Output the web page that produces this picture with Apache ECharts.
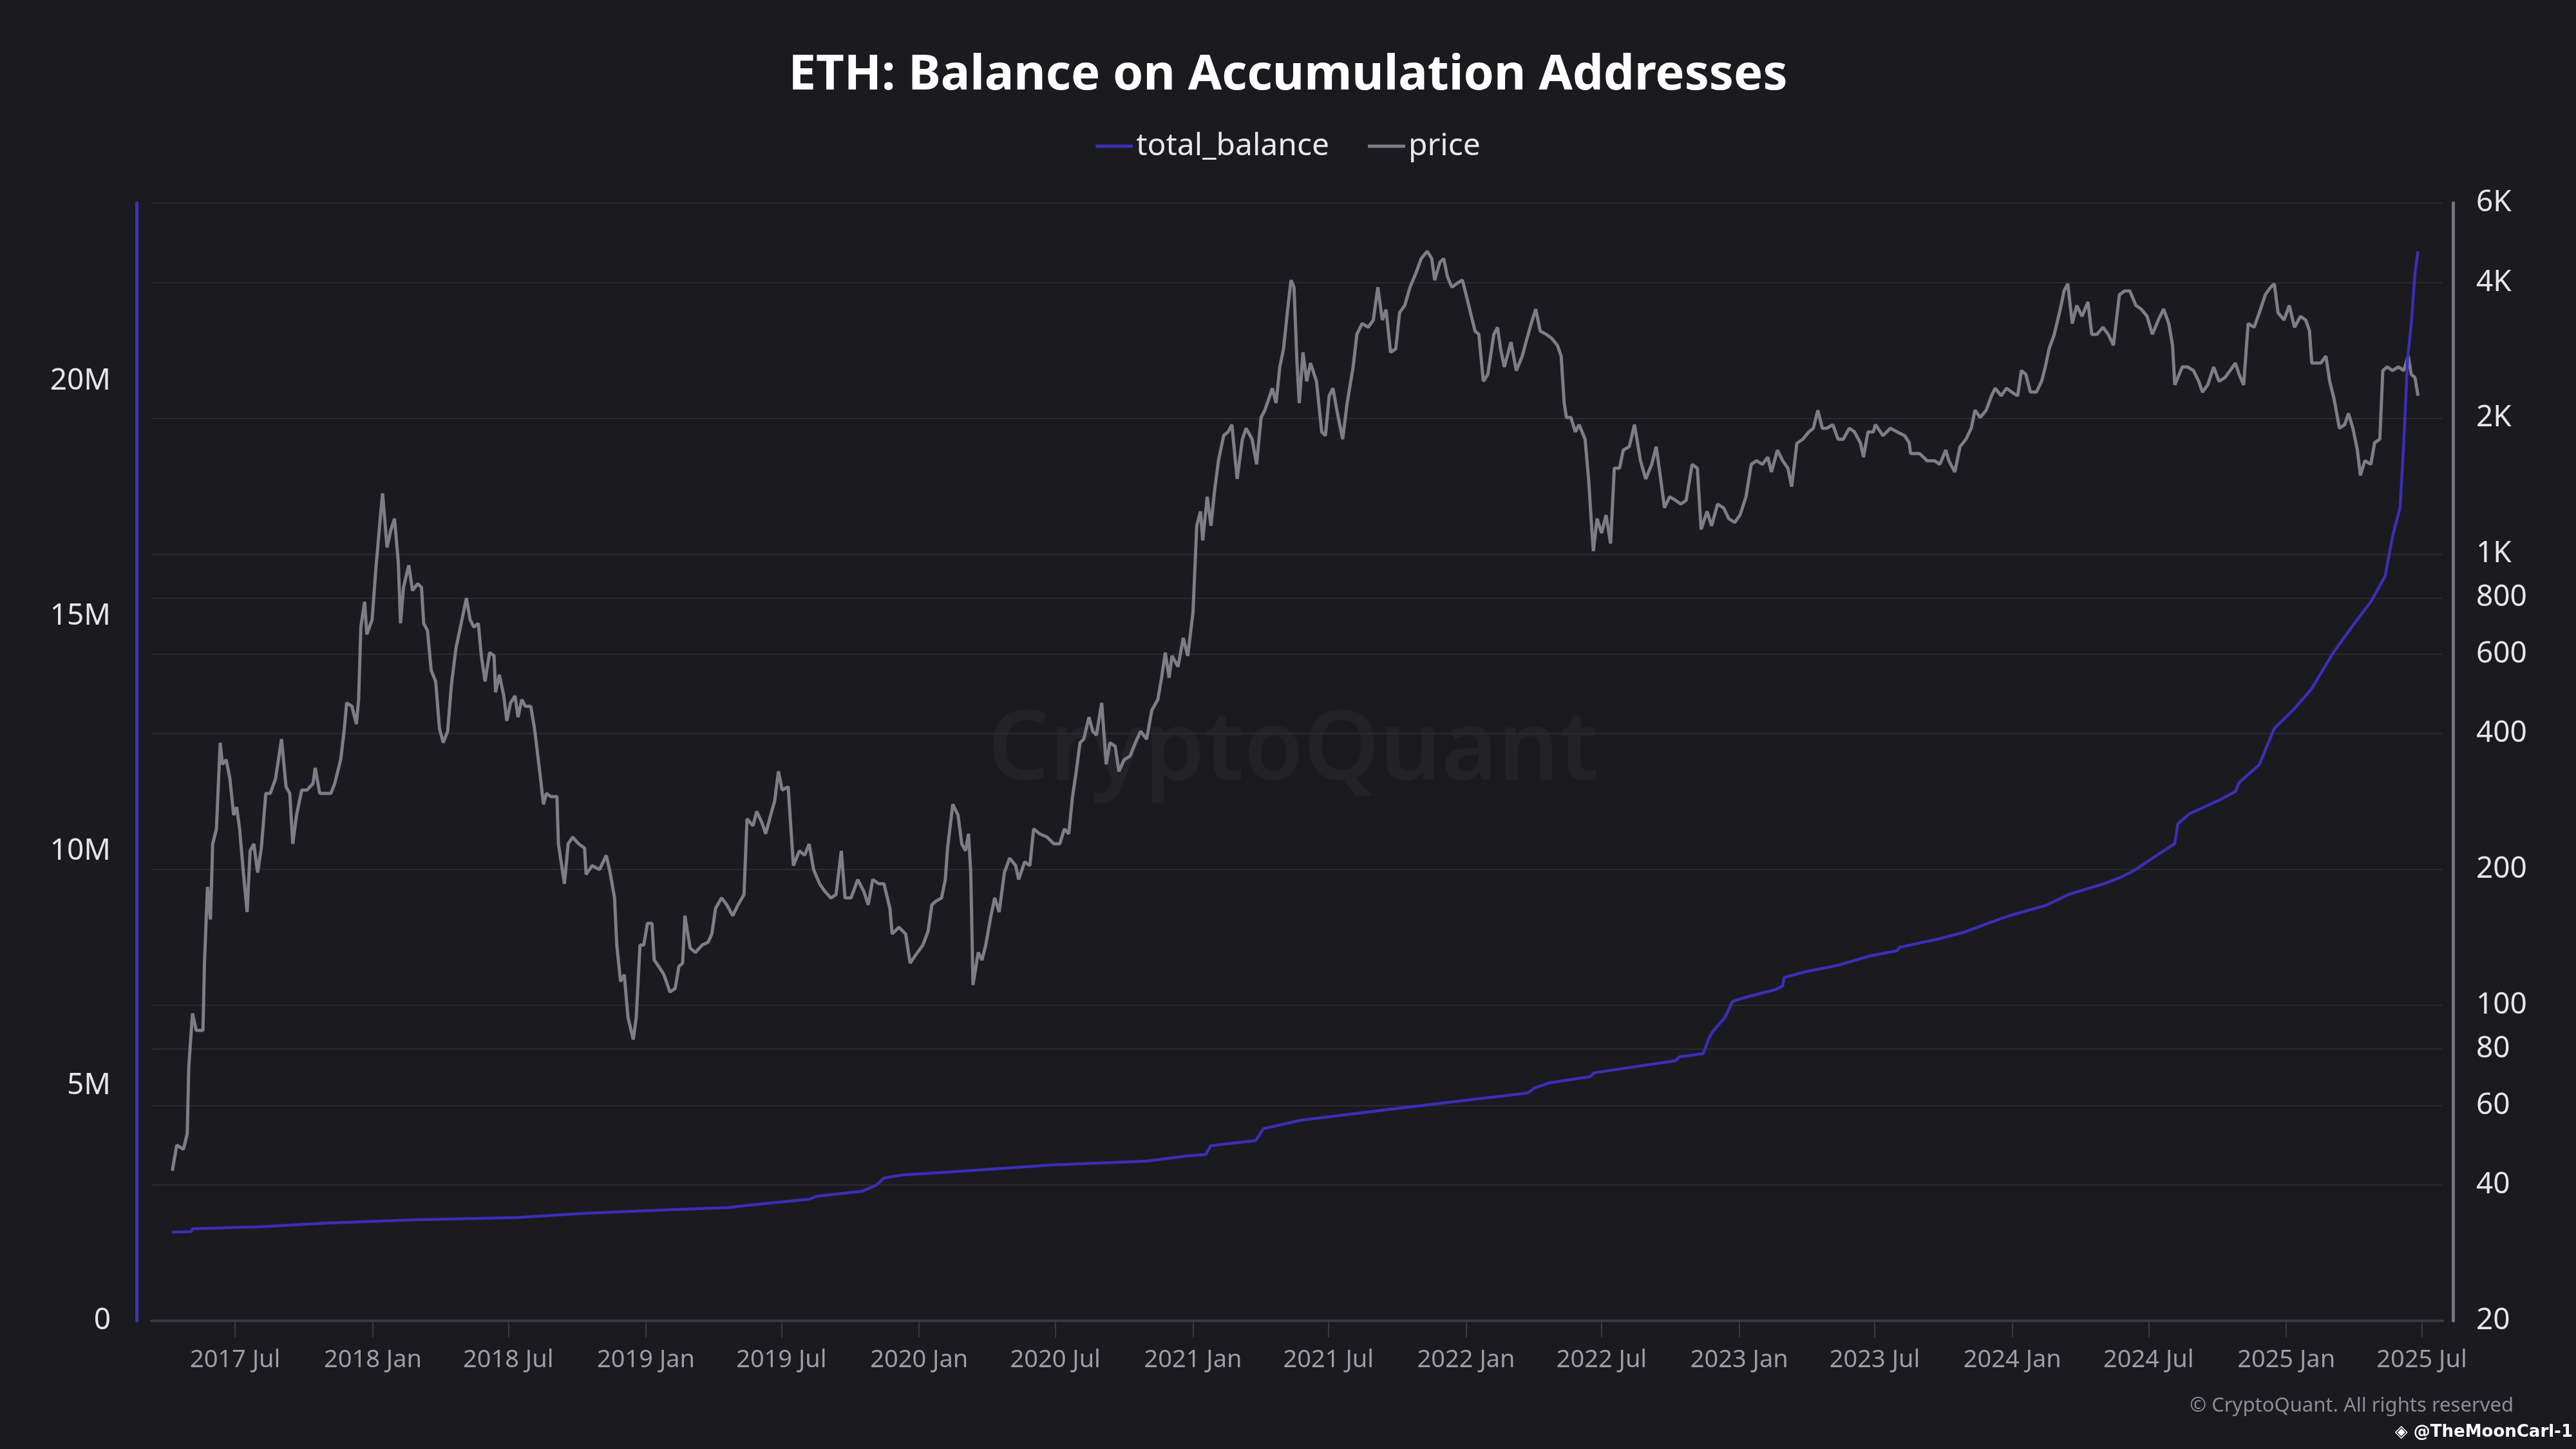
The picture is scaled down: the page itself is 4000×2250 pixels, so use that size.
<!DOCTYPE html>
<html>
<head>
<meta charset="utf-8">
<script src="https://cdn.jsdelivr.net/npm/echarts@6/dist/echarts.min.js"></script>
<style>
  html, body { margin: 0; padding: 0; background: #1b1a1f; }
  #chart { width: 4000px; height: 2250px; }
</style>
</head>
<body>
<div id="chart"></div>
<script>
// ETH price (USD)
const pricePoints = [
  ['2017-04-08', 43], ['2017-04-14', 49], ['2017-04-23', 48], ['2017-04-28', 52], ['2017-04-30', 73],
  ['2017-05-05', 96], ['2017-05-10', 88], ['2017-05-19', 88], ['2017-05-21', 124], ['2017-05-25', 183],
  ['2017-05-29', 155], ['2017-06-01', 228], ['2017-06-06', 246], ['2017-06-11', 382], ['2017-06-14', 342],
  ['2017-06-19', 350], ['2017-06-24', 318], ['2017-06-29', 264], ['2017-07-03', 275], ['2017-07-07', 246],
  ['2017-07-12', 197], ['2017-07-17', 161], ['2017-07-21', 220], ['2017-07-26', 228], ['2017-07-31', 197],
  ['2017-08-05', 223], ['2017-08-11', 295], ['2017-08-17', 295], ['2017-08-24', 318], ['2017-09-01', 389],
  ['2017-09-07', 305], ['2017-09-12', 295], ['2017-09-16', 228], ['2017-09-21', 264], ['2017-09-28', 300],
  ['2017-10-05', 300], ['2017-10-13', 310], ['2017-10-16', 336], ['2017-10-22', 295], ['2017-10-30', 295],
  ['2017-11-06', 295], ['2017-11-11', 310], ['2017-11-19', 350], ['2017-11-24', 411], ['2017-11-27', 468],
  ['2017-12-04', 460], ['2017-12-10', 420], ['2017-12-13', 476], ['2017-12-16', 689], ['2017-12-21', 784],
  ['2017-12-24', 664], ['2017-12-31', 715],
  ['2018-01-05', 925], ['2018-01-10', 1155], ['2018-01-14', 1363], ['2018-01-20', 1034], ['2018-01-25', 1130],
  ['2018-01-30', 1198], ['2018-02-04', 960], ['2018-02-07', 702], ['2018-02-11', 844], ['2018-02-18', 945],
  ['2018-02-23', 830], ['2018-03-02', 860], ['2018-03-07', 844], ['2018-03-10', 702], ['2018-03-15', 677],
  ['2018-03-20', 552], ['2018-03-26', 522], ['2018-03-31', 411], ['2018-04-05', 382], ['2018-04-11', 405],
  ['2018-04-16', 513], ['2018-04-22', 617], ['2018-04-28', 689], ['2018-05-06', 799], ['2018-05-11', 715],
  ['2018-05-16', 689], ['2018-05-22', 702], ['2018-05-26', 595], ['2018-05-31', 522], ['2018-06-06', 605],
  ['2018-06-12', 595], ['2018-06-14', 494], ['2018-06-19', 540], ['2018-06-25', 485], ['2018-06-29', 427],
  ['2018-07-04', 468], ['2018-07-10', 485], ['2018-07-14', 435], ['2018-07-19', 476], ['2018-07-24', 460],
  ['2018-07-31', 460], ['2018-08-05', 411], ['2018-08-12', 330], ['2018-08-17', 279], ['2018-08-21', 295],
  ['2018-08-27', 290], ['2018-09-04', 290], ['2018-09-06', 228], ['2018-09-14', 186], ['2018-09-19', 228],
  ['2018-09-25', 236], ['2018-10-03', 228], ['2018-10-11', 223], ['2018-10-13', 195], ['2018-10-21', 204],
  ['2018-10-31', 200], ['2018-11-09', 215], ['2018-11-14', 197], ['2018-11-20', 173], ['2018-11-23', 136],
  ['2018-11-28', 113], ['2018-12-03', 117], ['2018-12-08', 94], ['2018-12-15', 84], ['2018-12-19', 94],
  ['2018-12-24', 136], ['2018-12-29', 136],
  ['2019-01-03', 152], ['2019-01-09', 152], ['2019-01-12', 126], ['2019-01-18', 122], ['2019-01-25', 117],
  ['2019-02-02', 107], ['2019-02-09', 109], ['2019-02-14', 122], ['2019-02-19', 124], ['2019-02-22', 158],
  ['2019-03-01', 134], ['2019-03-08', 131], ['2019-03-17', 136], ['2019-03-25', 138], ['2019-03-30', 144],
  ['2019-04-04', 164], ['2019-04-12', 173], ['2019-04-19', 167], ['2019-04-27', 158], ['2019-05-04', 167],
  ['2019-05-12', 176], ['2019-05-16', 259], ['2019-05-24', 250], ['2019-05-29', 269], ['2019-06-05', 254],
  ['2019-06-10', 240], ['2019-06-18', 269], ['2019-06-22', 284], ['2019-06-27', 330], ['2019-07-02', 300],
  ['2019-07-10', 305], ['2019-07-17', 204], ['2019-07-25', 220], ['2019-08-01', 215], ['2019-08-07', 228],
  ['2019-08-13', 200], ['2019-08-21', 186], ['2019-08-28', 179], ['2019-09-05', 173], ['2019-09-12', 176],
  ['2019-09-19', 220], ['2019-09-24', 173], ['2019-10-02', 173], ['2019-10-11', 190], ['2019-10-19', 179],
  ['2019-10-25', 167], ['2019-10-31', 190], ['2019-11-08', 186], ['2019-11-15', 186], ['2019-11-23', 164],
  ['2019-11-26', 144], ['2019-12-05', 149], ['2019-12-14', 144], ['2019-12-20', 124], ['2019-12-27', 129],
  ['2020-01-06', 136], ['2020-01-13', 146], ['2020-01-18', 167], ['2020-01-23', 170], ['2020-01-31', 173],
  ['2020-02-05', 190], ['2020-02-08', 223], ['2020-02-15', 279], ['2020-02-22', 264], ['2020-02-27', 228],
  ['2020-03-03', 220], ['2020-03-07', 240], ['2020-03-10', 197], ['2020-03-13', 111], ['2020-03-20', 131],
  ['2020-03-25', 126], ['2020-03-30', 136], ['2020-04-06', 158], ['2020-04-11', 173], ['2020-04-17', 161],
  ['2020-04-24', 197], ['2020-05-01', 212], ['2020-05-09', 204], ['2020-05-13', 190], ['2020-05-21', 208],
  ['2020-05-28', 204], ['2020-06-02', 246], ['2020-06-10', 240], ['2020-06-20', 236], ['2020-06-29', 228],
  ['2020-07-07', 228], ['2020-07-13', 246], ['2020-07-19', 240], ['2020-07-24', 290], ['2020-07-29', 330],
  ['2020-08-03', 382], ['2020-08-08', 389], ['2020-08-15', 435], ['2020-08-20', 405], ['2020-08-25', 397],
  ['2020-09-01', 468], ['2020-09-07', 342], ['2020-09-12', 382], ['2020-09-19', 375], ['2020-09-24', 330],
  ['2020-10-01', 350], ['2020-10-09', 357], ['2020-10-16', 382], ['2020-10-23', 405], ['2020-10-31', 389],
  ['2020-11-07', 451], ['2020-11-15', 476], ['2020-11-20', 532], ['2020-11-25', 605], ['2020-11-30', 532],
  ['2020-12-04', 595], ['2020-12-12', 563], ['2020-12-19', 652], ['2020-12-25', 595],
  ['2021-01-01', 742], ['2021-01-06', 1155], ['2021-01-11', 1243], ['2021-01-14', 1072], ['2021-01-20', 1340],
  ['2021-01-25', 1155], ['2021-01-30', 1389], ['2021-02-04', 1609], ['2021-02-11', 1831], ['2021-02-17', 1867],
  ['2021-02-22', 1935], ['2021-03-01', 1467], ['2021-03-08', 1797], ['2021-03-13', 1900], ['2021-03-21', 1797],
  ['2021-03-27', 1580], ['2021-04-02', 2008], ['2021-04-07', 2083], ['2021-04-12', 2201], ['2021-04-17', 2330],
  ['2021-04-22', 2160], ['2021-04-27', 2598], ['2021-05-02', 2849], ['2021-05-07', 3425], ['2021-05-12', 4045],
  ['2021-05-16', 3900], ['2021-05-20', 2650], ['2021-05-23', 2160], ['2021-05-28', 2798], ['2021-06-02', 2414],
  ['2021-06-07', 2650], ['2021-06-15', 2414], ['2021-06-22', 1865], ['2021-06-27', 1830], ['2021-07-02', 2242],
  ['2021-07-07', 2330], ['2021-07-13', 2050], ['2021-07-20', 1797], ['2021-07-26', 2160], ['2021-08-03', 2598],
  ['2021-08-08', 3068], ['2021-08-15', 3242], ['2021-08-23', 3180], ['2021-08-30', 3300], ['2021-09-05', 3900],
  ['2021-09-11', 3300], ['2021-09-16', 3480], ['2021-09-22', 2798], ['2021-09-29', 2850], ['2021-10-04', 3425],
  ['2021-10-11', 3555], ['2021-10-18', 3900], ['2021-10-26', 4197], ['2021-11-02', 4516], ['2021-11-10', 4687],
  ['2021-11-16', 4516], ['2021-11-20', 4045], ['2021-11-27', 4430], ['2021-12-02', 4516], ['2021-12-07', 4120],
  ['2021-12-13', 3900], ['2021-12-19', 3970], ['2021-12-27', 4045],
  ['2022-01-01', 3755], ['2022-01-08', 3363], ['2022-01-13', 3120], ['2022-01-18', 3068], ['2022-01-24', 2414],
  ['2022-01-30', 2500], ['2022-02-07', 3068], ['2022-02-12', 3180], ['2022-02-16', 2850], ['2022-02-21', 2598],
  ['2022-03-02', 2950], ['2022-03-09', 2550], ['2022-03-17', 2745], ['2022-03-22', 2950], ['2022-03-29', 3242],
  ['2022-04-04', 3490], ['2022-04-10', 3120], ['2022-04-18', 3068], ['2022-04-25', 3010], ['2022-05-03', 2900],
  ['2022-05-08', 2745], ['2022-05-12', 2160], ['2022-05-15', 2008], ['2022-05-21', 2008], ['2022-05-27', 1865],
  ['2022-06-01', 1935], ['2022-06-09', 1797], ['2022-06-14', 1440], ['2022-06-17', 1198], ['2022-06-20', 1015],
  ['2022-06-25', 1198], ['2022-07-01', 1113], ['2022-07-07', 1220], ['2022-07-13', 1055], ['2022-07-18', 1550],
  ['2022-07-25', 1550], ['2022-07-30', 1700], ['2022-08-07', 1730], ['2022-08-14', 1935], ['2022-08-22', 1610],
  ['2022-08-29', 1467], ['2022-09-06', 1580], ['2022-09-12', 1730], ['2022-09-18', 1467], ['2022-09-23', 1266],
  ['2022-09-30', 1340], ['2022-10-08', 1315], ['2022-10-15', 1290], ['2022-10-22', 1315], ['2022-10-30', 1580],
  ['2022-11-06', 1550], ['2022-11-11', 1134], ['2022-11-19', 1243], ['2022-11-25', 1155], ['2022-12-03', 1290],
  ['2022-12-11', 1266], ['2022-12-18', 1198], ['2022-12-26', 1175],
  ['2023-01-02', 1220], ['2023-01-10', 1340], ['2023-01-17', 1580], ['2023-01-24', 1610], ['2023-02-01', 1580],
  ['2023-02-08', 1640], ['2023-02-13', 1520], ['2023-02-21', 1700], ['2023-02-28', 1610], ['2023-03-07', 1550],
  ['2023-03-12', 1410], ['2023-03-19', 1760], ['2023-03-27', 1797], ['2023-04-04', 1865], ['2023-04-10', 1900],
  ['2023-04-16', 2083], ['2023-04-22', 1900], ['2023-04-28', 1900], ['2023-05-06', 1935], ['2023-05-13', 1797],
  ['2023-05-20', 1797], ['2023-05-28', 1900], ['2023-06-04', 1865], ['2023-06-12', 1760], ['2023-06-16', 1640],
  ['2023-06-22', 1865], ['2023-06-29', 1865], ['2023-07-02', 1935], ['2023-07-12', 1830], ['2023-07-22', 1900],
  ['2023-07-31', 1865], ['2023-08-10', 1830], ['2023-08-16', 1765], ['2023-08-18', 1670], ['2023-08-30', 1670],
  ['2023-09-09', 1610], ['2023-09-19', 1610], ['2023-09-26', 1580], ['2023-10-04', 1700], ['2023-10-08', 1610],
  ['2023-10-16', 1520], ['2023-10-23', 1730], ['2023-10-31', 1797], ['2023-11-07', 1900], ['2023-11-12', 2083],
  ['2023-11-19', 2008], ['2023-11-27', 2083], ['2023-12-04', 2242], ['2023-12-09', 2330], ['2023-12-17', 2242],
  ['2023-12-24', 2330], ['2023-12-31', 2285],
  ['2024-01-08', 2242], ['2024-01-13', 2551], ['2024-01-19', 2500], ['2024-01-25', 2285], ['2024-02-02', 2285],
  ['2024-02-09', 2414], ['2024-02-14', 2598], ['2024-02-19', 2850], ['2024-02-26', 3068], ['2024-03-05', 3490],
  ['2024-03-10', 3827], ['2024-03-15', 3970], ['2024-03-21', 3242], ['2024-03-27', 3555], ['2024-04-03', 3363],
  ['2024-04-11', 3620], ['2024-04-16', 3068], ['2024-04-23', 3068], ['2024-05-01', 3180], ['2024-05-08', 3068],
  ['2024-05-15', 2900], ['2024-05-23', 3755], ['2024-05-30', 3827], ['2024-06-06', 3827], ['2024-06-14', 3555],
  ['2024-06-21', 3490], ['2024-06-29', 3363], ['2024-07-06', 3068], ['2024-07-14', 3300], ['2024-07-21', 3490],
  ['2024-07-28', 3242], ['2024-08-02', 2900], ['2024-08-05', 2370], ['2024-08-15', 2598], ['2024-08-22', 2598],
  ['2024-08-30', 2551], ['2024-09-06', 2414], ['2024-09-11', 2285], ['2024-09-18', 2370], ['2024-09-26', 2598],
  ['2024-10-03', 2414], ['2024-10-11', 2460], ['2024-10-18', 2551], ['2024-10-25', 2650], ['2024-10-30', 2500],
  ['2024-11-05', 2370], ['2024-11-11', 3242], ['2024-11-19', 3180], ['2024-11-26', 3425], ['2024-12-04', 3755],
  ['2024-12-11', 3900], ['2024-12-16', 3970], ['2024-12-21', 3425], ['2024-12-29', 3300],
  ['2025-01-05', 3555], ['2025-01-12', 3180], ['2025-01-20', 3363], ['2025-01-27', 3300], ['2025-02-01', 3120],
  ['2025-02-04', 2650], ['2025-02-16', 2650], ['2025-02-23', 2745], ['2025-02-28', 2414], ['2025-03-06', 2201],
  ['2025-03-13', 1900], ['2025-03-20', 1935], ['2025-03-25', 2050], ['2025-03-31', 1900], ['2025-04-06', 1700],
  ['2025-04-10', 1494], ['2025-04-16', 1610], ['2025-04-24', 1580], ['2025-04-29', 1765], ['2025-05-06', 1797],
  ['2025-05-10', 2551], ['2025-05-16', 2598], ['2025-05-23', 2551], ['2025-05-31', 2598], ['2025-06-07', 2551],
  ['2025-06-13', 2745], ['2025-06-17', 2500], ['2025-06-22', 2460], ['2025-06-26', 2242]
];

// total balance on accumulation addresses (ETH)
const balancePoints = [
  ['2017-04-08', 1.89e6], ['2017-05-03', 1.90e6], ['2017-05-05', 1.96e6], ['2017-08-02', 2.00e6],
  ['2017-10-30', 2.08e6], ['2018-02-23', 2.15e6], ['2018-07-14', 2.20e6], ['2018-10-11', 2.29e6],
  ['2019-01-28', 2.36e6], ['2019-04-20', 2.41e6], ['2019-05-24', 2.47e6], ['2019-08-08', 2.59e6],
  ['2019-08-16', 2.65e6], ['2019-10-17', 2.76e6], ['2019-11-05', 2.89e6], ['2019-11-15', 3.04e6],
  ['2019-12-12', 3.11e6], ['2020-02-12', 3.17e6], ['2020-06-29', 3.32e6], ['2020-10-31', 3.40e6],
  ['2020-12-23', 3.51e6], ['2021-01-18', 3.54e6], ['2021-01-25', 3.73e6], ['2021-03-26', 3.84e6],
  ['2021-04-05', 4.09e6], ['2021-05-25', 4.27e6], ['2021-10-11', 4.54e6], ['2022-03-24', 4.85e6],
  ['2022-04-03', 4.96e6], ['2022-04-23', 5.07e6], ['2022-06-16', 5.20e6], ['2022-06-21', 5.28e6],
  ['2022-10-08', 5.54e6], ['2022-10-13', 5.62e6], ['2022-11-14', 5.69e6], ['2022-11-21', 6.00e6],
  ['2022-11-26', 6.15e6], ['2022-12-13', 6.46e6], ['2022-12-23', 6.80e6], ['2023-01-12', 6.90e6],
  ['2023-02-18', 7.05e6], ['2023-02-28', 7.13e6], ['2023-03-02', 7.31e6], ['2023-03-30', 7.43e6],
  ['2023-05-13', 7.57e6], ['2023-06-25', 7.77e6], ['2023-07-31', 7.88e6], ['2023-08-03', 7.95e6],
  ['2023-09-24', 8.13e6], ['2023-10-28', 8.27e6], ['2023-11-22', 8.42e6], ['2023-12-27', 8.62e6],
  ['2024-02-14', 8.84e6], ['2024-03-15', 9.07e6], ['2024-05-03', 9.31e6], ['2024-05-23', 9.43e6],
  ['2024-06-11', 9.58e6], ['2024-07-11', 9.90e6], ['2024-08-05', 10.16e6], ['2024-08-09', 10.58e6],
  ['2024-08-25', 10.80e6], ['2024-10-03', 11.08e6], ['2024-10-25', 11.27e6], ['2024-10-30', 11.46e6],
  ['2024-11-26', 11.84e6], ['2024-12-06', 12.23e6], ['2024-12-16', 12.61e6], ['2025-01-10', 13.00e6],
  ['2025-02-04', 13.46e6], ['2025-03-05', 14.23e6], ['2025-03-30', 14.78e6], ['2025-04-24', 15.31e6],
  ['2025-05-13', 15.85e6], ['2025-05-23', 16.70e6], ['2025-06-02', 17.31e6], ['2025-06-07', 18.70e6],
  ['2025-06-12', 20.47e6], ['2025-06-17', 21.23e6], ['2025-06-22', 22.30e6], ['2025-06-26', 22.77e6]
];

// tick positions / labels
const xTickDates = ['2017-07-01', '2018-01-01', '2018-07-01', '2019-01-01', '2019-07-01', '2020-01-01',
  '2020-07-01', '2021-01-01', '2021-07-01', '2022-01-01', '2022-07-01', '2023-01-01', '2023-07-01',
  '2024-01-01', '2024-07-01', '2025-01-01', '2025-07-01'];
const priceTicks = [20, 40, 60, 80, 100, 200, 400, 600, 800, 1000, 2000, 4000, 6000];
const balanceTicks = [0, 5000000, 10000000, 15000000, 20000000];
const monthNames = ['Jan', 'Feb', 'Mar', 'Apr', 'May', 'Jun', 'Jul', 'Aug', 'Sep', 'Oct', 'Nov', 'Dec'];

function toTime(d) {
    return echarts.time.parse(d).getTime();
}

function drawChart() {
    let chart = echarts.init(document.getElementById('chart'));
    let xTicks = xTickDates.map(toTime);
    let font = 'Noto Sans';

    let options = {
        backgroundColor: '#1b1a1f',
        animation: false,
        title: {
            text: 'ETH: Balance on Accumulation Addresses',
            left: 'center',
            top: 74,
            textStyle: { color: '#ffffff', fontSize: 76, fontWeight: 'bold', fontFamily: font }
        },
        legend: {
            data: ['total_balance', 'price'],
            top: 198,
            left: 'center',
            icon: 'rect',
            itemWidth: 58,
            itemHeight: 5,
            itemGap: 60,
            textStyle: { color: '#e8e8ec', fontSize: 48, fontFamily: font }
        },
        grid: { left: 235, right: 207, top: 315, bottom: 199 },
        graphic: [
            {
                type: 'text', x: 2008, y: 1168, z: 0, silent: true,
                style: {
                    text: 'CryptoQuant', fill: 'rgba(255,255,255,0.035)',
                    font: '600 150px "Noto Sans"', textAlign: 'center', textVerticalAlign: 'middle'
                }
            },
            {
                type: 'text', x: 3903, y: 2183,
                style: {
                    text: '\u00a9 CryptoQuant. All rights reserved', fill: '#8d8c93',
                    font: '31px "Noto Sans"', textAlign: 'right', textVerticalAlign: 'middle'
                }
            },
            {
                type: 'text', x: 3995, y: 2224,
                style: {
                    text: '\u25c8 @TheMoonCarl-1', fill: '#ffffff',
                    font: '600 26px "DejaVu Sans"', textAlign: 'right', textVerticalAlign: 'middle'
                }
            }
        ],
        xAxis: {
            type: 'value',
            min: toTime('2017-03-11'),
            max: toTime('2025-07-29'),
            axisLine: { lineStyle: { color: '#3a3941', width: 4 } },
            axisTick: { show: true, customValues: xTicks, length: 26, lineStyle: { color: '#3a3941', width: 2 } },
            axisLabel: {
                customValues: xTicks,
                formatter: v => {
                    let d = new Date(v);
                    return d.getFullYear() + ' ' + monthNames[d.getMonth()];
                },
                color: '#9d9ca4', fontSize: 38, fontFamily: font, margin: 42
            },
            splitLine: { show: false }
        },
        yAxis: [
            {
                type: 'value',
                position: 'left',
                min: 0,
                max: 23800000,
                offset: 23,
                axisLine: { show: true, lineStyle: { color: '#3d30b8', width: 5 } },
                axisTick: { show: false },
                splitLine: { show: false },
                axisLabel: {
                    customValues: balanceTicks,
                    formatter: v => v === 0 ? '0' : (v / 1e6) + 'M',
                    color: '#e6e6ea', fontSize: 46, fontFamily: font, margin: 40
                }
            },
            {
                type: 'log',
                logBase: 10,
                position: 'right',
                min: 20,
                max: 6000,
                offset: 16,
                axisLine: { show: true, lineStyle: { color: '#76757d', width: 5 } },
                axisTick: { show: false, customValues: priceTicks },
                splitLine: { show: true, lineStyle: { color: '#2b2a31', width: 2 } },
                axisLabel: {
                    customValues: priceTicks,
                    formatter: v => {
                        let r = Math.round(v);
                        return r >= 1000 ? (r / 1000) + 'K' : String(r);
                    },
                    color: '#e6e6ea', fontSize: 46, fontFamily: font, margin: 36
                }
            }
        ],
        series: [
            {
                name: 'price',
                type: 'line',
                yAxisIndex: 1,
                data: pricePoints.map(p => [toTime(p[0]), p[1]]),
                showSymbol: false,
                z: 2,
                lineStyle: { color: '#7e7d86', width: 5 },
                itemStyle: { color: '#7e7d86' }
            },
            {
                name: 'total_balance',
                type: 'line',
                yAxisIndex: 0,
                data: balancePoints.map(p => [toTime(p[0]), p[1]]),
                showSymbol: false,
                z: 3,
                lineStyle: { color: '#3b2eb6', width: 4.5 },
                itemStyle: { color: '#3b2eb6' }
            }
        ]
    };

    chart.setOption(options);
}

drawChart();
</script>
</body>
</html>
